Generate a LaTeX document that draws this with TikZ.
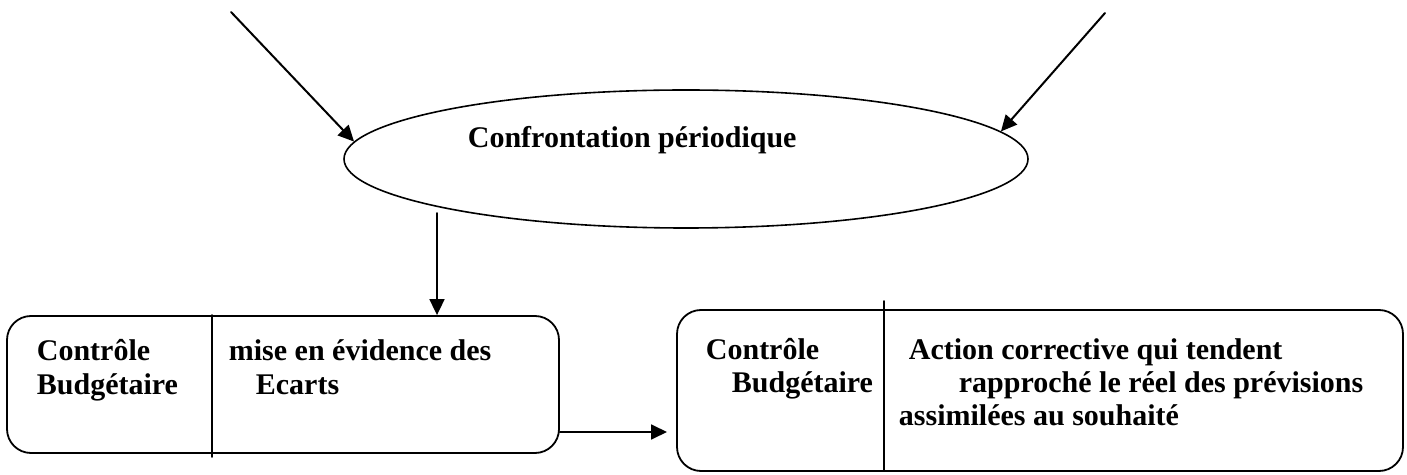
\documentclass[tikz,border=0pt]{standalone}
\usepackage{fontspec}
\setmainfont{Liberation Serif}
\usetikzlibrary{shapes.geometric,arrows.meta}
\begin{document}
\begin{tikzpicture}[x=0.5pt, y=-0.5pt, line join = round, line cap = round, >={Triangle[length=8pt,width=7.5pt]}, line width=0.9pt, font=\fontsize{15}{18}\selectfont\bfseries]
	\tikzset{txt/.style={anchor=base west, inner sep=0pt},
		box/.style={draw, rounded corners=12pt, inner sep=0pt}}
	\useasboundingbox (0,0) rectangle (1407,475);
	\path (231,12) coordinate (A)
	(1105,13) coordinate (B)
	(437,213) coordinate (V)
	(667,432) coordinate (H)
	(212,315) coordinate (D1) (212,457) coordinate (D2)
	(884,301) coordinate (D3) (884,471) coordinate (D4)
	;
	\node[draw, ellipse, inner sep=0pt, line width=0.8pt, minimum width=342pt, minimum height=69pt] (ell) at (686,159) {};
	\node[txt] (conf) at (467,148) {Confrontation périodique};
	\node[box, minimum width=276pt, minimum height=68.5pt] (lbox) at (283,384.5) {};
	\node[box, minimum width=363pt, minimum height=80.5pt] (rbox) at (1040,390.5) {};
	\draw (D1) -- (D2);
	\draw (D3) -- (D4);
	\foreach \n/\x/\y/\t in {a/36/361/Contrôle, b/36/394/Budgétaire, c/228/361/mise en évidence des, d/255/394/Ecarts,
		e/705/360/Contrôle, f/731/393/Budgétaire, g/908/360/Action corrective qui tendent,
		h/958/393/rapproché le réel des prévisions, i/898/425/assimilées au souhaité}
	\node[txt] (t\n) at (\x,\y) {\t};
	\draw[->, line width=1pt] (A) -- (ell.177);
	\draw[->, line width=1pt] (B) -- (ell.5);
	\draw[->] (V) -- (V |- lbox.north);
	\draw[->] (lbox.east |- H) -- (H);
\end{tikzpicture}
\end{document}
